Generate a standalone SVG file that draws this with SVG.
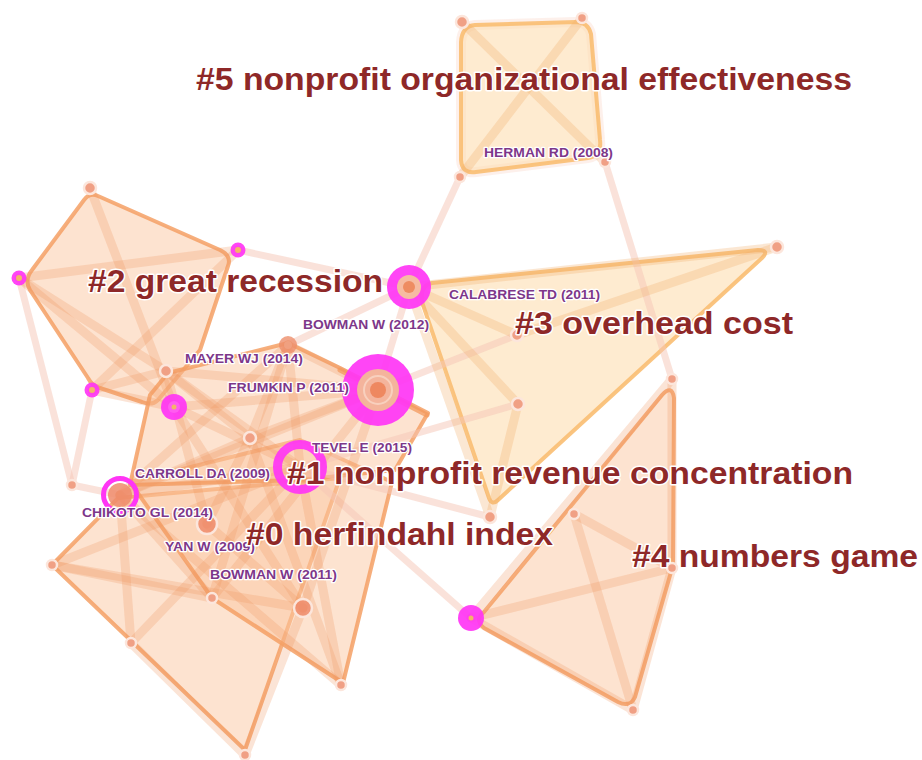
<svg xmlns="http://www.w3.org/2000/svg" width="922" height="760" viewBox="0 0 922 760">
  <style>
    .hull-o { fill: #FCC8A2; fill-opacity: 0.5; stroke: #F5A065; stroke-width: 4; stroke-linejoin: round; stroke-opacity: 0.85; }
    .hull-y { fill: #FEDDB0; fill-opacity: 0.6; stroke: #F9BE72; stroke-width: 4; stroke-linejoin: round; stroke-opacity: 0.9; }
    .halo { fill: none; stroke: #F8D3C6; stroke-width: 10; stroke-linejoin: round; stroke-opacity: 0.35; }
    .e { stroke: #F09660; stroke-width: 9; stroke-opacity: 0.26; stroke-linecap: round; fill: none; }
    .ey { stroke: #F3AE6C; stroke-width: 9; stroke-opacity: 0.3; stroke-linecap: round; fill: none; }
    .p { stroke: #F6C6B6; stroke-width: 7; stroke-opacity: 0.5; stroke-linecap: round; fill: none; }
    .n { fill: #F0A085; stroke: #FCE6DC; stroke-width: 2.5; }
    .m { fill: #FF35F5; fill-opacity: 0.92; }
    .dot { fill: #F4B468; }
    .big { font-family: "Liberation Sans", Arial, sans-serif; font-weight: bold; font-size: 32px; fill: #8E2828; stroke: #FFFFFF; stroke-width: 3; paint-order: stroke; stroke-linejoin: round; }
    .lab { font-family: "Liberation Sans", Arial, sans-serif; font-weight: bold; font-size: 13.5px; fill: #7D378A; stroke: #FFFFFF; stroke-width: 2.5; paint-order: stroke; stroke-linejoin: round; }
  </style>

  <rect width="922" height="760" fill="#FFFFFF"/>

  <!-- cluster hulls -->
  <g id="hulls">
    <path class="halo" d="M475,25 L576,22 Q588,22 591,34 L600,140 Q602,156 588,158 L476,172 Q462,174 461,160 L461,42 Q462,26 475,25 Z"/>
    <path class="hull-y" d="M475,25 L576,22 Q588,22 591,34 L600,140 Q602,156 588,158 L476,172 Q462,174 461,160 L461,42 Q462,26 475,25 Z"/>
    <path class="hull-y" d="M432,283 L758,250 Q770,250 762,258 L498,500 Q492,506 489,498 L422,302 Q420,285 432,283 Z"/>
    <path class="hull-o" d="M484,612 L662,395 Q672,384 674,398 L673,565 L635,697 Q630,708 618,702 L484,628 Q474,620 484,612 Z"/>
    <path class="hull-o" d="M98,196 L220,250 Q232,256 228,266 L200,350 L158,400 Q152,406 142,402 L100,388 Q92,386 88,378 L30,290 Q24,280 32,270 L84,200 Q90,192 98,196 Z"/>
    <polygon class="hull-o" points="52,565 118,498 340,478 245,750"/>
    <polygon class="hull-o" points="130,482 300,440 392,482 343,683 212,598"/>
    <polygon class="hull-o" points="130,485 150,395 168,373 288,343 340,368 428,413 395,470 300,480"/>
  </g>

  <!-- connectors -->
  <g id="connectors">
    <!-- links between clusters -->
    <line class="p" x1="238" y1="250" x2="409" y2="287"/>
    <line class="p" x1="460" y1="177" x2="409" y2="287"/>
    <line class="p" x1="605" y1="162" x2="672" y2="379"/>
    <line class="p" x1="19" y1="278" x2="72" y2="485"/>
    <line class="p" x1="92" y1="390" x2="72" y2="485"/>
    <line class="p" x1="72" y1="485" x2="120" y2="495"/>
    <line class="p" x1="409" y1="287" x2="378" y2="390"/>
    <line class="p" x1="409" y1="287" x2="288" y2="345"/>
    <line class="p" x1="378" y1="390" x2="517" y2="335"/>
    <line class="p" x1="300" y1="467" x2="518" y2="404"/>
    <line class="p" x1="300" y1="467" x2="471" y2="618"/>
    <line class="p" x1="300" y1="467" x2="490" y2="517"/>

    <!-- cluster #5 -->
    <line class="ey" x1="462" y1="22" x2="605" y2="162"/>
    <line class="ey" x1="582" y1="18" x2="460" y2="177"/>

    <!-- cluster #3 -->
    <line class="ey" x1="409" y1="287" x2="777" y2="247"/>
    <line class="ey" x1="409" y1="287" x2="517" y2="335"/>
    <line class="ey" x1="409" y1="287" x2="518" y2="404"/>
    <line class="ey" x1="409" y1="287" x2="490" y2="517"/>
    <line class="ey" x1="777" y1="247" x2="517" y2="335"/>
    <line class="ey" x1="518" y1="404" x2="490" y2="517"/>

    <!-- cluster #4 -->
    <line class="e" x1="471" y1="618" x2="672" y2="379"/>
    <line class="e" x1="471" y1="618" x2="672" y2="568"/>
    <line class="e" x1="471" y1="618" x2="633" y2="710"/>
    <line class="e" x1="574" y1="514" x2="633" y2="710"/>
    <line class="e" x1="574" y1="514" x2="672" y2="568"/>
    <line class="e" x1="672" y1="379" x2="672" y2="568"/>
    <line class="e" x1="672" y1="568" x2="633" y2="710"/>

    <!-- cluster #2 -->
    <line class="e" x1="90" y1="188" x2="174" y2="407"/>
    <line class="e" x1="19" y1="278" x2="238" y2="250"/>
    <line class="e" x1="19" y1="278" x2="174" y2="407"/>
    <line class="e" x1="238" y1="250" x2="92" y2="390"/>
    <line class="e" x1="92" y1="390" x2="166" y2="371"/>
    <line class="e" x1="92" y1="390" x2="174" y2="407"/>
    <line class="e" x1="19" y1="278" x2="166" y2="371"/>

    <!-- clusters #0 and #1 -->
    <line class="e" x1="166" y1="371" x2="378" y2="390"/>
    <line class="e" x1="174" y1="407" x2="378" y2="390"/>
    <line class="e" x1="174" y1="407" x2="300" y2="467"/>
    <line class="e" x1="166" y1="371" x2="250" y2="438"/>
    <line class="e" x1="288" y1="345" x2="250" y2="438"/>
    <line class="e" x1="288" y1="345" x2="300" y2="467"/>
    <line class="e" x1="288" y1="345" x2="378" y2="390"/>
    <line class="e" x1="250" y1="438" x2="378" y2="390"/>
    <line class="e" x1="120" y1="495" x2="378" y2="390"/>
    <line class="e" x1="120" y1="495" x2="300" y2="467"/>
    <line class="e" x1="120" y1="495" x2="250" y2="438"/>
    <line class="e" x1="120" y1="495" x2="288" y2="345"/>
    <line class="e" x1="250" y1="438" x2="341" y2="685"/>
    <line class="e" x1="288" y1="345" x2="212" y2="598"/>
    <line class="e" x1="174" y1="407" x2="303" y2="608"/>
    <line class="e" x1="300" y1="467" x2="131" y2="643"/>
    <line class="e" x1="120" y1="495" x2="341" y2="685"/>
    <line class="e" x1="52" y1="565" x2="303" y2="608"/>
    <line class="e" x1="52" y1="565" x2="300" y2="467"/>
    <line class="e" x1="120" y1="495" x2="131" y2="643"/>
    <line class="e" x1="212" y1="598" x2="378" y2="390"/>
    <line class="e" x1="303" y1="608" x2="378" y2="390"/>
    <line class="e" x1="300" y1="467" x2="341" y2="685"/>
    <line class="e" x1="52" y1="565" x2="212" y2="598"/>
    <line class="e" x1="207" y1="524" x2="303" y2="608"/>
    <line class="e" x1="166" y1="371" x2="207" y2="524"/>
    <line class="e" x1="120" y1="495" x2="212" y2="598"/>
    <line class="e" x1="131" y1="643" x2="245" y2="755"/>
    <line class="e" x1="303" y1="608" x2="245" y2="755"/>
    <line class="e" x1="166" y1="371" x2="300" y2="467"/>
    <line class="e" x1="250" y1="438" x2="207" y2="524"/>
    <line x1="340" y1="370" x2="427" y2="415" stroke="#F39A5E" stroke-width="5" stroke-opacity="0.75" stroke-linecap="round"/>
  </g>

  <!-- nodes: cluster #5 -->
  <g id="node-n5a"><circle class="n" cx="462" cy="22" r="6" fill="#F6C7B4"/></g>
  <g id="node-n5b"><circle class="n" cx="582" cy="18" r="5"/></g>
  <g id="node-herman"><circle class="n" cx="605" cy="162" r="5" fill="#F6C2A8"/></g>
  <g id="node-n5d"><circle class="n" cx="460" cy="177" r="5" fill="#F6C2A8"/></g>

  <!-- nodes: cluster #3 -->
  <g id="node-gr">
    <circle class="m" cx="409" cy="287" r="22"/>
    <circle cx="409" cy="287" r="12" fill="#F6BBA2"/>
    <circle cx="409" cy="287" r="6" fill="#EE8C62"/>
  </g>
  <g id="node-n3a"><circle class="n" cx="777" cy="247" r="6" fill="#F6D0C0"/></g>
  <g id="node-calabrese"><circle class="n" cx="517" cy="335" r="6" fill="#EC8C6C"/></g>
  <g id="node-n3c"><circle class="n" cx="518" cy="404" r="6" fill="#F6C2A8"/></g>
  <g id="node-n3d"><circle class="n" cx="490" cy="517" r="6" fill="#F6C2A8"/></g>

  <!-- nodes: cluster #4 -->
  <g id="node-n4a"><circle class="n" cx="672" cy="379" r="5"/></g>
  <g id="node-n4b"><circle class="n" cx="574" cy="514" r="5"/></g>
  <g id="node-n4c"><circle class="n" cx="672" cy="568" r="5"/></g>
  <g id="node-n4d"><circle class="n" cx="633" cy="710" r="5" fill="#F6C2A8"/></g>
  <g id="node-n4e"><circle class="m" cx="471" cy="618" r="13"/><circle class="dot" cx="471" cy="618" r="2.5"/></g>

  <!-- nodes: cluster #2 -->
  <g id="node-n2a"><circle class="n" cx="90" cy="188" r="6" fill="#F6C7B4"/></g>
  <g id="node-n2b"><circle class="m" cx="238" cy="250" r="7.5"/><circle class="dot" cx="238" cy="250" r="3"/></g>
  <g id="node-n2c"><circle class="m" cx="19" cy="278" r="7.5"/><circle class="dot" cx="19" cy="278" r="3"/></g>
  <g id="node-n2d"><circle class="m" cx="92" cy="390" r="7.5"/><circle class="dot" cx="92" cy="390" r="3"/></g>
  <g id="node-mayer"><circle class="n" cx="166" cy="371" r="6" fill="#F6C2A8"/></g>
  <g id="node-n2f"><circle class="m" cx="174" cy="407" r="13"/><circle cx="174" cy="407" r="6" fill="#FF5CF0"/><circle class="dot" cx="174" cy="407" r="2.5"/></g>

  <!-- nodes: clusters #0 and #1 -->
  <g id="node-n1a"><circle cx="288" cy="345" r="9" fill="#EE8E6C" fill-opacity="0.8"/><circle cx="288" cy="345" r="4" fill="#F0A080"/></g>
  <g id="node-n1b"><circle class="n" cx="250" cy="438" r="6" fill="#F6C2A8"/></g>
  <g id="node-frumkin">
    <circle class="m" cx="378" cy="390" r="36"/>
    <circle cx="378" cy="390" r="21" fill="#F4B49C"/>
    <circle cx="378" cy="390" r="14" fill="none" stroke="#F8D0BE" stroke-width="2"/>
    <circle cx="378" cy="390" r="8" fill="#EE8860"/>
  </g>
  <g id="node-tevel"><circle cx="300" cy="467" r="22.5" fill="none" stroke="#FF35F5" stroke-width="9" stroke-opacity="0.92"/></g>
  <g id="node-chikoto">
    <circle cx="120" cy="495" r="12" fill="#EE8C6C" fill-opacity="0.85"/>
    <circle cx="120" cy="495" r="16.5" fill="none" stroke="#FF35F5" stroke-width="5"/>
  </g>
  <g id="node-n0a"><circle class="n" cx="72" cy="485" r="5" fill="#F6C2A8"/></g>
  <g id="node-yan"><circle cx="207" cy="524" r="10" fill="#EE8C6C" fill-opacity="0.85" stroke="#FCE6DC" stroke-width="2.5"/></g>
  <g id="node-n0c"><circle class="n" cx="52" cy="565" r="5"/></g>
  <g id="node-n0d"><circle class="n" cx="212" cy="598" r="5"/></g>
  <g id="node-bowman11"><circle cx="303" cy="608" r="9" fill="#EE8C6C" fill-opacity="0.85" stroke="#FCE6DC" stroke-width="2.5"/></g>
  <g id="node-n0f"><circle class="n" cx="131" cy="643" r="5"/></g>
  <g id="node-n0g"><circle class="n" cx="341" cy="685" r="5"/></g>
  <g id="node-n0h"><circle class="n" cx="245" cy="755" r="5" fill="#F6C2A8"/></g>

  <!-- reference labels -->
  <g id="labels-refs">
    <text class="lab" x="484" y="157" textLength="129" lengthAdjust="spacingAndGlyphs">HERMAN RD (2008)</text>
    <text class="lab" x="449" y="299" textLength="151" lengthAdjust="spacingAndGlyphs">CALABRESE TD (2011)</text>
    <text class="lab" x="303" y="329" textLength="126" lengthAdjust="spacingAndGlyphs">BOWMAN W (2012)</text>
    <text class="lab" x="185" y="363" textLength="118" lengthAdjust="spacingAndGlyphs">MAYER WJ (2014)</text>
    <text class="lab" x="228" y="392" textLength="121" lengthAdjust="spacingAndGlyphs">FRUMKIN P (2011)</text>
    <text class="lab" x="312" y="452" textLength="100" lengthAdjust="spacingAndGlyphs">TEVEL E (2015)</text>
    <text class="lab" x="135" y="478" textLength="135" lengthAdjust="spacingAndGlyphs">CARROLL DA (2009)</text>
    <text class="lab" x="82" y="517" textLength="131" lengthAdjust="spacingAndGlyphs">CHIKOTO GL (2014)</text>
    <text class="lab" x="165" y="551" textLength="90" lengthAdjust="spacingAndGlyphs">YAN W (2009)</text>
    <text class="lab" x="210" y="579" textLength="127" lengthAdjust="spacingAndGlyphs">BOWMAN W (2011)</text>
  </g>

  <!-- cluster labels -->
  <g id="labels-clusters">
    <text class="big" x="196" y="90" textLength="656" lengthAdjust="spacingAndGlyphs">#5 nonprofit organizational effectiveness</text>
    <text class="big" x="88" y="292" textLength="295" lengthAdjust="spacingAndGlyphs">#2 great recession</text>
    <text class="big" x="515" y="334" textLength="278" lengthAdjust="spacingAndGlyphs">#3 overhead cost</text>
    <text class="big" x="287" y="484" textLength="566" lengthAdjust="spacingAndGlyphs">#1 nonprofit revenue concentration</text>
    <text class="big" x="246" y="545" textLength="307" lengthAdjust="spacingAndGlyphs">#0 herfindahl index</text>
    <text class="big" x="632" y="567" textLength="286" lengthAdjust="spacingAndGlyphs">#4 numbers game</text>
  </g>
</svg>
